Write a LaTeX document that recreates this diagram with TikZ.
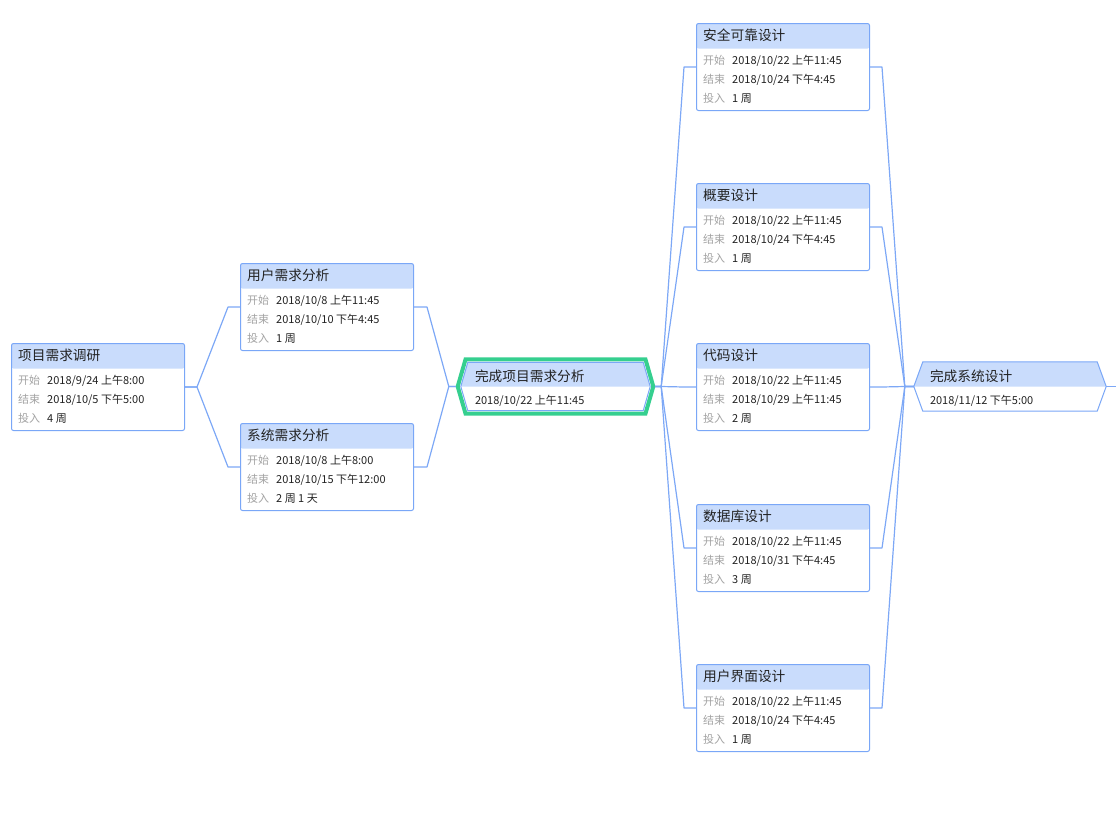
\documentclass[tikz,border=0pt]{standalone}
\usepackage{fontspec}
\setmainfont{Noto Sans CJK SC}
\usetikzlibrary{positioning}

\definecolor{headblue}{HTML}{C9DCFC}
\definecolor{boxblue}{HTML}{7AA7F7}
\definecolor{linkblue}{HTML}{7DA8F6}
\definecolor{msgreen}{HTML}{35CF8F}
\definecolor{keygray}{HTML}{A3A3A3}
\definecolor{valdark}{HTML}{222222}

\tikzset{
  taskbox/.style={draw=boxblue, line width=1pt, rounded corners=2pt, fill=white,
    minimum width=173pt, minimum height=87pt, inner sep=0pt,
    path picture={\fill[headblue] (path picture bounding box.north west)
      rectangle ([yshift=-25pt]path picture bounding box.north east);}},
  tasktitle/.style={anchor=west, inner sep=0pt, text=valdark, font=\fontsize{13.7}{16}\selectfont},
  rowkey/.style={anchor=west, inner sep=0pt, text=keygray, font=\fontsize{11}{13}\selectfont},
  rowval/.style={anchor=west, inner sep=0pt, text=valdark, font=\fontsize{11}{13}\selectfont},
  link/.style={draw=linkblue, line width=1.2pt, line join=round},
  msframe/.style={minimum width=#1, minimum height=48pt, inner sep=0pt}
}

% name, left, top, title, start, end, effort
\newcommand{\tasknode}[7]{%
  \node[taskbox, anchor=north west] (#1) at (#2,#3) {};
  \node[tasktitle] (#1-t) at ([xshift=7pt,yshift=-12.5pt]#1.north west) {#4};
  \node[rowkey] (#1-ks) at ([xshift=7pt,yshift=-37.5pt]#1.north west) {开始};
  \node[rowval] (#1-s) at ([xshift=36pt,yshift=-37.5pt]#1.north west) {#5};
  \node[rowkey] (#1-ke) at ([xshift=7pt,yshift=-56.5pt]#1.north west) {结束};
  \node[rowval] (#1-e) at ([xshift=36pt,yshift=-56.5pt]#1.north west) {#6};
  \node[rowkey] (#1-kw) at ([xshift=7pt,yshift=-75.5pt]#1.north west) {投入};
  \node[rowval] (#1-w) at ([xshift=36pt,yshift=-75.5pt]#1.north west) {#7};
}

\begin{document}
\begin{tikzpicture}[x=1pt,y=-1pt]
\useasboundingbox (0,0) rectangle (1116,817);

\tasknode{xmdy}{11}{343}{项目需求调研}{2018/9/24 上午8:00}{2018/10/5 下午5:00}{4 周}
\tasknode{yhxq}{240}{263}{用户需求分析}{2018/10/8 上午11:45}{2018/10/10 下午4:45}{1 周}
\tasknode{xtxq}{240}{423}{系统需求分析}{2018/10/8 上午8:00}{2018/10/15 下午12:00}{2 周 1 天}

\tasknode{aqsj}{696}{23}{安全可靠设计}{2018/10/22 上午11:45}{2018/10/24 下午4:45}{1 周}
\tasknode{gysj}{696}{183}{概要设计}{2018/10/22 上午11:45}{2018/10/24 下午4:45}{1 周}
\tasknode{dmsj}{696}{343}{代码设计}{2018/10/22 上午11:45}{2018/10/29 上午11:45}{2 周}
\tasknode{sjksj}{696}{504}{数据库设计}{2018/10/22 上午11:45}{2018/10/31 下午4:45}{3 周}
\tasknode{jmsj}{696}{664}{用户界面设计}{2018/10/22 上午11:45}{2018/10/24 下午4:45}{1 周}

% milestone: requirements done
\node[msframe=189pt] (wcxq) at (555.5,386.5) {};
\draw[msgreen, line width=4pt, line join=miter]
  ([xshift=-3.1pt]wcxq.west) -- ([xshift=4.75pt,yshift=3pt]wcxq.north west)
  -- ([xshift=-4.75pt,yshift=3pt]wcxq.north east) -- ([xshift=3.1pt]wcxq.east)
  -- ([xshift=-4.75pt,yshift=-3pt]wcxq.south east) -- ([xshift=4.75pt,yshift=-3pt]wcxq.south west) -- cycle;
\fill[white] (wcxq.west) -- ([xshift=7pt]wcxq.north west) -- ([xshift=-7pt]wcxq.north east)
  -- (wcxq.east) -- ([xshift=-7pt]wcxq.south east) -- ([xshift=7pt]wcxq.south west) -- cycle;
\fill[headblue] (wcxq.west) -- ([xshift=7pt]wcxq.north west) -- ([xshift=-7pt]wcxq.north east) -- (wcxq.east) -- cycle;
\draw[boxblue, line width=1pt] (wcxq.west) -- ([xshift=7pt]wcxq.north west) -- ([xshift=-7pt]wcxq.north east)
  -- (wcxq.east) -- ([xshift=-7pt]wcxq.south east) -- ([xshift=7pt]wcxq.south west) -- cycle;
\node[tasktitle] (wcxq-t) at ([xshift=14pt,yshift=-14pt]wcxq.north west) {完成项目需求分析};
\node[rowval] (wcxq-d) at ([xshift=14pt,yshift=10pt]wcxq.south west) {2018/10/22 上午11:45};

% milestone: design done
\node[msframe=192pt, minimum height=49pt] (wcsj) at (1010,386.5) {};
\fill[white] (wcsj.west) -- ([xshift=9pt]wcsj.north west) -- ([xshift=-9pt]wcsj.north east)
  -- (wcsj.east) -- ([xshift=-9pt]wcsj.south east) -- ([xshift=9pt]wcsj.south west) -- cycle;
\fill[headblue] (wcsj.west) -- ([xshift=9pt]wcsj.north west) -- ([xshift=-9pt]wcsj.north east) -- (wcsj.east) -- cycle;
\draw[boxblue, line width=1pt] (wcsj.west) -- ([xshift=9pt]wcsj.north west) -- ([xshift=-9pt]wcsj.north east)
  -- (wcsj.east) -- ([xshift=-9pt]wcsj.south east) -- ([xshift=9pt]wcsj.south west) -- cycle;
\node[tasktitle] (wcsj-t) at ([xshift=16pt,yshift=-14pt]wcsj.north west) {完成系统设计};
\node[rowval] (wcsj-d) at ([xshift=16pt,yshift=10.5pt]wcsj.south west) {2018/11/12 下午5:00};

% connectors
\foreach \b in {yhxq,xtxq} {
  \draw[link] (xmdy.east) -- ++(12,0) -- ([xshift=-12pt]\b.west) -- (\b.west);
  \draw[link] (\b.east) -- ++(13,0) -- ([xshift=-12pt]wcxq.west) -- ([xshift=-5pt]wcxq.west);
}
\foreach \b in {aqsj,gysj,dmsj,sjksj,jmsj} {
  \draw[link] ([xshift=5pt]wcxq.east) -- ++(6,0) -- ([xshift=-12pt]\b.west) -- (\b.west);
  \draw[link] (\b.east) -- ++(12,0) -- ([xshift=-9pt]wcsj.west) -- (wcsj.west);
}
\coordinate (next) at (1116,386.5);
\draw[link] (wcsj.east) -- (next);

\end{tikzpicture}
\end{document}
